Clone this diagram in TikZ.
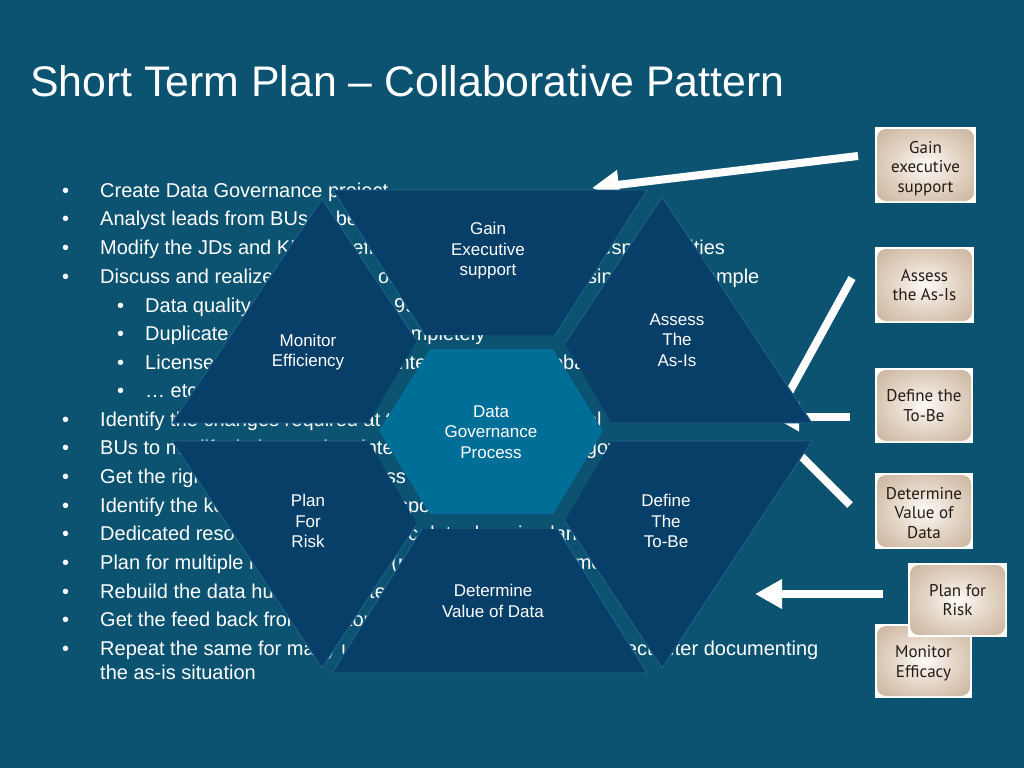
\documentclass[tikz,border=0pt]{standalone}
\usepackage{fontspec}
\setmainfont{Liberation Sans}
\newfontfamily\boxfont{PT Sans}
\usetikzlibrary{arrows.meta}
\definecolor{bgc}{RGB}{12,82,113}
\definecolor{piecec}{RGB}{8,63,105}
\definecolor{piecel}{RGB}{32,100,140}
\definecolor{hexc}{RGB}{0,111,152}
\definecolor{cIn}{RGB}{253,251,248}
\definecolor{cMid}{RGB}{226,211,195}
\definecolor{cOut}{RGB}{186,160,134}
\definecolor{boxtext}{RGB}{36,27,21}
\pgfdeclareradialshading{boxshade}{\pgfpoint{0bp}{0bp}}{color(0bp)=(cIn); color(18bp)=(cMid); color(46bp)=(cOut); color(75bp)=(cOut)}
\tikzset{
  txt/.style={inner sep=0pt, text=white, font=\fontsize{20}{24}\selectfont, anchor=base west},
  lbl/.style={inner sep=0pt, text=white, align=center, font=\fontsize{17}{20.5}\selectfont},
  piece/.style={fill=piecec, draw=piecel, line width=0.8pt},
  boxframe/.style={fill=white, draw=none, inner sep=0pt},
  boxinner/.style={rounded corners=9pt, shading=boxshade, draw=none, inner sep=0pt},
  boxlbl/.style={inner sep=0pt, align=center, text=boxtext, font=\boxfont\fontsize{17}{19.5}\selectfont},
  warrow/.style={draw=white, line width=8pt, -{Triangle[length=27pt,width=28pt]}},
  wline/.style={draw=white, line width=8pt}
}
\begin{document}
\begin{tikzpicture}[x=1pt,y=-1pt]
\useasboundingbox (0,0) rectangle (1024,768);
\fill[bgc] (0,0) rectangle (1024,768);
% title
\node[inner sep=0pt, anchor=base west, text=white, font=\fontsize{42.8}{50}\selectfont] (title) at (30,96) {Short Term Plan -- Collaborative Pattern};
% bullets
\node[txt] (p1) at (62,197) {•}; \node[txt] (l1) at (100,197) {Create Data Governance project};
\node[txt] (p2) at (62,225) {•}; \node[txt] (l2) at (100,225) {Analyst leads from BUs to be identified as data stewards};
\node[txt] (p3) at (62,254) {•}; \node[txt] (l3) at (100,254) {Modify the JDs and KRA to reflect the data governance responsibilities};
\node[txt] (p4) at (62,283) {•}; \node[txt] (l4) at (100,283) {Discuss and realize the benefit of governance in the business, for example};
\node[txt] (p5) at (117,312) {•}; \node[txt] (l5) at (145,312) {Data quality improved up to 99\%};
\node[txt] (p6) at (117,340) {•}; \node[txt] (l6) at (145,340) {Duplicate records removed completely};
\node[txt] (p7) at (117,369) {•}; \node[txt] (l7) at (145,369) {License cost reduced for all integrated tools globally};
\node[txt] (p8) at (117,397) {•}; \node[txt] (l8) at (145,397) {… etc};
\node[txt] (p9) at (62,426) {•}; \node[txt] (l9) at (100,426) {Identify the changes required at the business group level};
\node[txt] (p10) at (62,454) {•}; \node[txt] (l10) at (100,454) {BUs to modify their own data interfaces to comply with governance};
\node[txt] (p11) at (62,483) {•}; \node[txt] (l11) at (100,483) {Get the right people in the process};
\node[txt] (p12) at (62,512) {•}; \node[txt] (l12) at (100,512) {Identify the key stakeholders and sponsors};
\node[txt] (p13) at (62,540) {•}; \node[txt] (l13) at (100,540) {Dedicated resources for the specific data domain plans};
\node[txt] (p14) at (62,569) {•}; \node[txt] (l14) at (100,569) {Plan for multiple releases as per (phased approach) timelines};
\node[txt] (p15) at (62,598) {•}; \node[txt] (l15) at (100,598) {Rebuild the data hub with master data};
\node[txt] (p16) at (62,626) {•}; \node[txt] (l16) at (100,626) {Get the feed back from auditors and sponsors};
\node[txt] (p17) at (62,655) {•}; \node[txt] (l17) at (100,655) {Repeat the same for many units as a part of the overall project after documenting};
\node[txt] (l17b) at (100,679) {the as-is situation};
% arrows (behind the diagram)
\coordinate (a1s) at (858,156); \coordinate (a1e) at (592,188);
\coordinate (a2s) at (852,278); \coordinate (a2e) at (774,420);
\coordinate (a3s) at (850,416.5); \coordinate (a3e) at (772,416.5);
\coordinate (a4s) at (850,505); \coordinate (a4e) at (792,447);
\coordinate (a5s) at (883,594); \coordinate (a5e) at (755,594);
\draw[warrow] (a1s) -- (a1e);
\draw[warrow] (a2s) -- (a2e);
\draw[warrow] (a3s) -- (a3e);
\draw[wline] (a4s) -- (a4e);
\draw[warrow] (a5s) -- (a5e);
% six pieces around the centre, cut by the central hexagon
\begin{scope}
\clip (0,0) -- (1024,0) -- (1024,768) -- (0,768) -- cycle
      (420,335) -- (363,432) -- (420,529) -- (560,529) -- (617,432) -- (560,335) -- cycle;
\path[piece] (333,190) -- (647,190) -- (490,438) -- cycle;
\path[piece] (322,199) -- (472,423) -- (172,423) -- cycle;
\path[piece] (662,197) -- (812,423) -- (512,423) -- cycle;
\path[piece] (172,441) -- (472,441) -- (322,668) -- cycle;
\path[piece] (512,441) -- (812,441) -- (662,668) -- cycle;
\path[piece] (490,420) -- (647,673) -- (332,673) -- cycle;
\end{scope}
\fill[hexc] (430,349) -- (553,349) -- (603,431) -- (553,514) -- (430,514) -- (379,431) -- cycle;
% labels
\node[lbl] (gain) at (488,251) {Gain\\Executive\\ support};
\node[lbl] (assess) at (677,340) {Assess\\The\\ As-Is};
\node[lbl] (monitor) at (308,352) {Monitor\\Efficiency};
\node[lbl] (dgp) at (491,432) {Data\\Governance\\Process};
\node[lbl] (plan) at (308,521) {Plan\\For\\Risk};
\node[lbl] (define) at (666,521) {Define\\The\\ To-Be};
\node[lbl] (determine) at (493,601) {Determine\\Value of Data};
% boxes on the right
\node[boxframe, minimum width=101pt, minimum height=76pt] (f1) at (925.5,165) {};
\node[boxinner, minimum width=97pt, minimum height=72pt] (g1) at (f1.center) {};
\node[boxlbl] (t1) at ([yshift=-3.5pt]f1.center) {Gain\\executive\\support};
\node[boxframe, minimum width=99pt, minimum height=76pt] (f2) at (924.5,285) {};
\node[boxinner, minimum width=95pt, minimum height=72pt] (g2) at (f2.center) {};
\node[boxlbl] (t2) at (f2.center) {Assess\\the As-Is};
\node[boxframe, minimum width=98pt, minimum height=75pt] (f3) at (924,405.5) {};
\node[boxinner, minimum width=94pt, minimum height=71pt] (g3) at (f3.center) {};
\node[boxlbl] (t3) at (f3.center) {Define the\\To-Be};
\node[boxframe, minimum width=98pt, minimum height=76pt] (f4) at (924,511) {};
\node[boxinner, minimum width=94pt, minimum height=72pt] (g4) at (f4.center) {};
\node[boxlbl] (t4) at ([yshift=-2pt]f4.center) {Determine\\Value of\\Data};
\node[boxframe, minimum width=97pt, minimum height=74pt] (f6) at (923.5,661) {};
\node[boxinner, minimum width=93pt, minimum height=70pt] (g6) at (f6.center) {};
\node[boxlbl] (t6) at ([yshift=-2pt]f6.center) {Monitor\\Efficacy};
\node[boxframe, minimum width=99pt, minimum height=74pt] (f5) at (957.5,600) {};
\node[boxinner, minimum width=95pt, minimum height=70pt] (g5) at (f5.center) {};
\node[boxlbl] (t5) at (f5.center) {Plan for\\Risk};
\end{tikzpicture}
\end{document}
